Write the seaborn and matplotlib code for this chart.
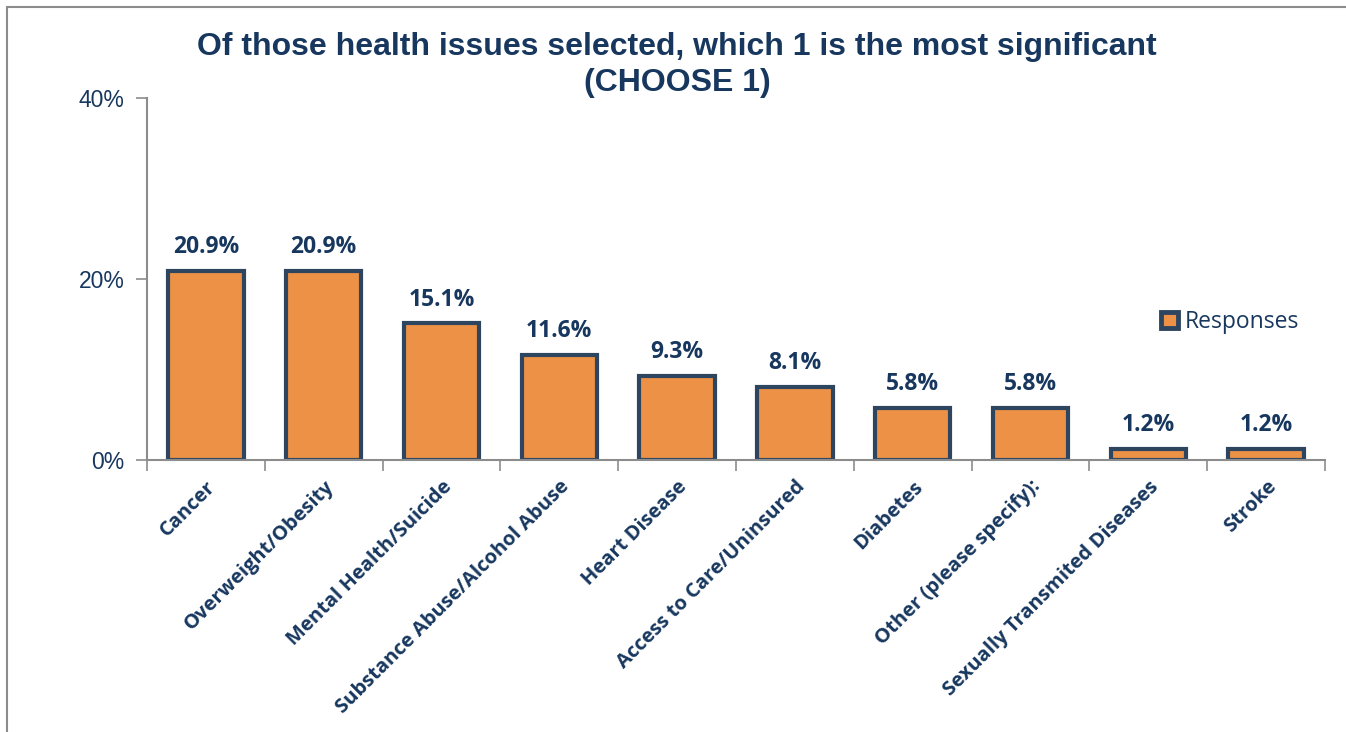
import matplotlib
matplotlib.use("Agg")
import matplotlib.pyplot as plt
import seaborn as sns
import pandas as pd
from matplotlib.lines import Line2D
from matplotlib.patches import Patch

categories = ["Cancer", "Overweight/Obesity", "Mental Health/Suicide",
              "Substance Abuse/Alcohol Abuse", "Heart Disease",
              "Access to Care/Uninsured", "Diabetes", "Other (please specify):",
              "Sexually Transmited Diseases", "Stroke"]
values = [20.9, 20.9, 15.1, 11.6, 9.3, 8.1, 5.8, 5.8, 1.2, 1.2]
yticks = [0, 20, 40]
ytick_labels = ["0%", "20%", "40%"]

NAVY = "#17375E"
EDGE = "#2E4560"
ORANGE = "#EC9146"
GRAY = "#8C8C8C"

sns.set_theme(style="white")
plt.rcParams['font.family'] = ['Open Sans', 'DejaVu Sans']

fig = plt.figure(figsize=(13.46, 7.32), dpi=100)
ax = fig.add_axes([147/1346, (732-460)/732, (1325-147)/1346, (460-98)/732])

df = pd.DataFrame({"cat": categories, "val": values})
sns.barplot(data=df, x="cat", y="val", ax=ax, color=ORANGE, width=0.64,
            edgecolor=EDGE, linewidth=3, saturation=1)

ax.set_ylim(0, 40)
ax.set_xlim(-0.5, len(categories) - 0.5)
ax.set_yticks(yticks)
ax.set_yticklabels(ytick_labels, fontsize=16.5, color=NAVY, family="Liberation Sans")
ax.set_xticks(range(len(categories)))
ax.set_xticklabels(categories, rotation=45, ha="right", rotation_mode="anchor",
                   fontsize=14.5, fontweight="bold", color=NAVY)
ax.tick_params(axis="x", length=0, pad=12)
ax.tick_params(axis="y", length=8, width=1.2, color=GRAY, left=True, pad=8)
# category boundary ticks
ax.set_xticks([i - 0.5 for i in range(len(categories) + 1)], minor=True)
ax.tick_params(axis="x", which="minor", length=8, width=1.2, color=GRAY, bottom=True)

for s in ["top", "right"]:
    ax.spines[s].set_visible(False)
for s in ["left", "bottom"]:
    ax.spines[s].set_color(GRAY)
    ax.spines[s].set_linewidth(1.5)
ax.set_xlabel("")
ax.set_ylabel("")

for i, v in enumerate(values):
    ax.text(i, v + 1.3, f"{v:.1f}%", ha="center", va="bottom", fontsize=16.5,
            fontweight="bold", color=NAVY)

fig.text(0.503, 1 - 65/732, "Of those health issues selected, which 1 is the most significant\n(CHOOSE 1)",
         ha="center", va="center", fontsize=23, fontweight="bold", color=NAVY,
         family="Liberation Sans", linespacing=1.3)

handle = Patch(facecolor=ORANGE, edgecolor=EDGE, linewidth=3.5)
leg = ax.legend([handle], ["Responses"], loc="center left",
                bbox_to_anchor=(1140/1346, (732-322)/732), bbox_transform=fig.transFigure,
                frameon=False, fontsize=16.5, handlelength=0.75, handleheight=0.75,
                handletextpad=0.3)
for t in leg.get_texts():
    t.set_color(NAVY)

# outer border (partially visible)
fig.add_artist(Line2D([7/1346, 7/1346], [0, 1 - 7/732], transform=fig.transFigure,
                      color=GRAY, linewidth=1.5))
fig.add_artist(Line2D([7/1346, 1], [1 - 7/732, 1 - 7/732], transform=fig.transFigure,
                      color=GRAY, linewidth=1.5))

fig.savefig("out.png", dpi=100)
